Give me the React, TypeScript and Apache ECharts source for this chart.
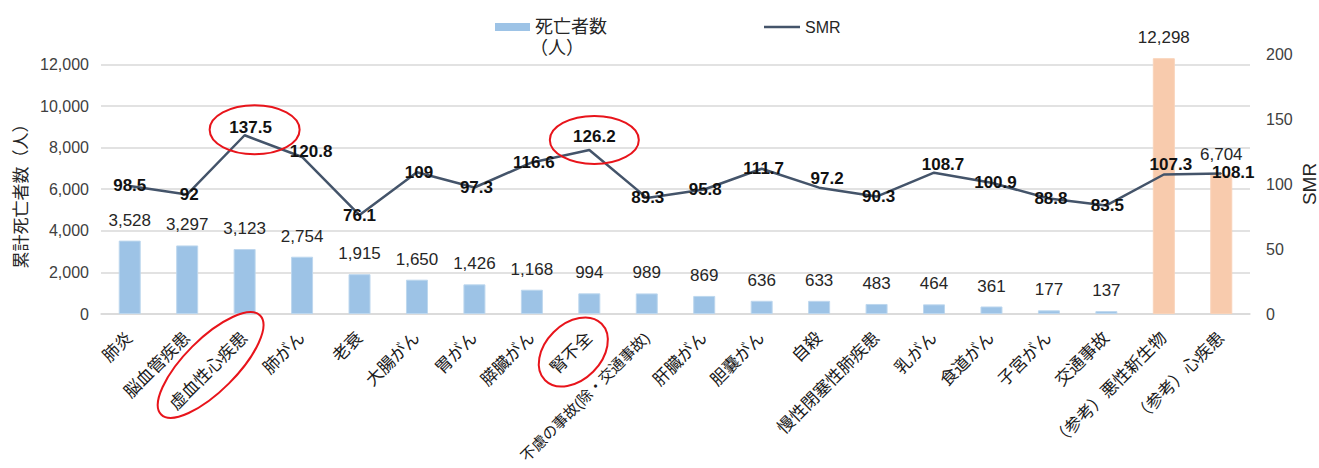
import React, { useEffect, useRef } from "react";
import * as echarts from "echarts";

// 死因別の累計死亡者数と SMR
const categories = [
  "肺炎",
  "脳血管疾患",
  "虚血性心疾患",
  "肺がん",
  "老衰",
  "大腸がん",
  "胃がん",
  "膵臓がん",
  "腎不全",
  "不慮の事故(除・交通事故)",
  "肝臓がん",
  "胆嚢がん",
  "自殺",
  "慢性閉塞性肺疾患",
  "乳がん",
  "食道がん",
  "子宮がん",
  "交通事故",
  "（参考）悪性新生物",
  "（参考）心疾患",
];

const deaths = [
  3528, 3297, 3123, 2754, 1915, 1650, 1426, 1168, 994, 989, 869, 636, 633, 483,
  464, 361, 177, 137, 12298, 6704,
];

const smr = [
  98.5, 92, 137.5, 120.8, 76.1, 109, 97.3, 116.6, 126.2, 89.3, 95.8, 111.7,
  97.2, 90.3, 108.7, 100.9, 88.8, 83.5, 107.3, 108.1,
];

// 参考値として別色で描く項目
const referenceItems = ["（参考）悪性新生物", "（参考）心疾患"];

// SMR ラベルの表示位置の微調整 [dx, dy]
const smrLabelShift: [number, number][] = [
  [0, 0], [2, 0], [6, -8], [9, -5], [0, 0], [2, 0], [2, 0], [2, 0], [5, -13], [1, 0],
  [1, 0], [2, 0], [8, -9], [2, 0], [9, -8], [4, 0], [2, 0], [1, 0], [7, -10], [12, -1],
];

const BLUE = "#9DC3E6";
const ORANGE = "#F8CBAD";
const SLATE = "#44546A";
const RED = "#E8141B";
const TEXT = "#262626";
const FONT = '"Liberation Sans", Arial, "Noto Sans CJK JP", sans-serif';

const fmt = (v: number) => v.toLocaleString("en-US");

// 長い項目名は下端に収まるよう少し小さく描く
const LONG_LABEL = 12;

export default function App() {
  const ref = useRef<HTMLDivElement>(null);

  useEffect(() => {
    if (!ref.current) return;
    const chart = echarts.init(ref.current, undefined, { renderer: "svg" });

    const option: any = {
      animation: false,
      textStyle: { fontFamily: FONT },
      grid: {
        left: 101,
        right: 69,
        top: 54,
        bottom: 154,
        containLabel: false,
        outerBoundsMode: "none",
      },
      legend: [
        {
          data: [{ name: "死亡者数", icon: "rect" }],
          left: 490,
          top: 13,
          itemWidth: 35,
          itemHeight: 8,
          textStyle: { fontSize: 18, color: TEXT, fontFamily: FONT },
        },
        {
          data: [{ name: "SMR", icon: "rect" }],
          left: 759,
          top: 14,
          itemWidth: 36,
          itemHeight: 2.5,
          textStyle: { fontSize: 16, color: TEXT, fontFamily: FONT },
        },
      ],
      xAxis: {
        type: "category",
        data: categories.map((c) =>
          c.length > LONG_LABEL ? { value: c, textStyle: { fontSize: 15 } } : c
        ),
        axisTick: { show: false },
        axisLine: { lineStyle: { color: "#D9D9D9", width: 1.5 } },
        axisLabel: {
          interval: 0,
          rotate: 45,
          margin: 21,
          fontSize: 17,
          color: "#1a1a1a",
          fontFamily: FONT,
        },
      },
      yAxis: [
        {
          type: "value",
          min: 0,
          max: 12500,
          interval: 2000,
          axisLine: { show: false },
          axisTick: { show: false },
          axisLabel: {
            formatter: (v: number) => fmt(v),
            showMaxLabel: false,
            fontSize: 16,
            margin: 12,
            color: "#404040",
            fontFamily: FONT,
          },
          splitLine: {
            showMaxLine: false,
            lineStyle: { color: "#D9D9D9", width: 1.5 },
          },
        },
        {
          type: "value",
          min: 0,
          max: 200,
          interval: 50,
          axisLine: { show: false },
          axisTick: { show: false },
          splitLine: { show: false },
          axisLabel: {
            fontSize: 16,
            margin: 16,
            color: "#404040",
            fontFamily: FONT,
          },
        },
      ],
      series: [
        {
          name: "死亡者数",
          type: "bar",
          barWidth: 22,
          itemStyle: { color: BLUE },
          data: deaths.map((v, i) => {
            const isRef = referenceItems.includes(categories[i]);
            return {
              value: v,
              itemStyle: {
                color: isRef ? ORANGE : BLUE,
                borderColor: isRef ? "#F9D3B9" : "#BDD7EE",
                borderWidth: 1,
              },
            };
          }),
          label: {
            show: true,
            position: "top",
            distance: 12,
            fontSize: 17,
            color: TEXT,
            fontFamily: FONT,
            formatter: (p: any) => fmt(p.value),
          },
          z: 2,
        },
        {
          name: "SMR",
          type: "line",
          yAxisIndex: 1,
          symbol: "circle",
          symbolSize: 1,
          itemStyle: { color: SLATE },
          lineStyle: { color: SLATE, width: 2.5 },
          data: smr.map((v, i) => ({
            value: v,
            label: { offset: smrLabelShift[i] },
          })),
          label: {
            show: true,
            position: "inside",
            fontSize: 17,
            fontWeight: "bold",
            color: "#111",
            fontFamily: FONT,
          },
          z: 3,
        },
      ],
    };

    chart.setOption(option);

    // 注目箇所を囲む赤い楕円（データ点・軸ラベルの位置を基準に配置）
    const pt = (i: number, v: number) =>
      chart.convertToPixel({ xAxisIndex: 0, yAxisIndex: 1 }, [i, v]) as number[];
    const idxHeart = categories.indexOf("虚血性心疾患");
    const idxKidney = categories.indexOf("腎不全");
    const pHeart = pt(idxHeart, smr[idxHeart]);
    const pKidney = pt(idxKidney, smr[idxKidney]);
    const axisHeart = pt(idxHeart, 0);
    const axisKidney = pt(idxKidney, 0);

    const ring = (x: number, y: number, rx: number, ry: number, rotation = 0) => ({
      type: "ellipse",
      x,
      y,
      rotation,
      shape: { cx: 0, cy: 0, rx, ry },
      style: { fill: "none", stroke: RED, lineWidth: 2 },
      silent: true,
      z: 10,
    });

    chart.setOption({
      graphic: [
        ring(pHeart[0] + 10, pHeart[1] - 5.5, 45, 24.5),
        ring(pKidney[0] + 5, pKidney[1] - 10, 44.5, 24),
        ring(axisHeart[0] - 34, axisHeart[1] + 51, 70, 26, Math.PI / 4),
        ring(axisKidney[0] - 16, axisKidney[1] + 38, 40, 28, Math.PI / 4),
        {
          type: "text",
          left: 530,
          top: 39,
          style: { text: "（人）", fontSize: 18, fill: TEXT, fontFamily: FONT },
        },
        {
          type: "text",
          x: 21,
          y: 192,
          rotation: Math.PI / 2,
          style: {
            text: "累計死亡者数（人）",
            fontSize: 17,
            fill: TEXT,
            fontFamily: FONT,
            align: "center",
            verticalAlign: "middle",
          },
        },
        {
          type: "text",
          x: 1309,
          y: 184,
          rotation: Math.PI / 2,
          style: {
            text: "SMR",
            fontSize: 19,
            fill: TEXT,
            fontFamily: FONT,
            align: "center",
            verticalAlign: "middle",
          },
        },
      ],
    });

    return () => chart.dispose();
  }, []);

  return (
    <div
      ref={ref}
      style={{ position: "fixed", left: 0, top: 0, width: 1319, height: 468, background: "#fff" }}
    />
  );
}
